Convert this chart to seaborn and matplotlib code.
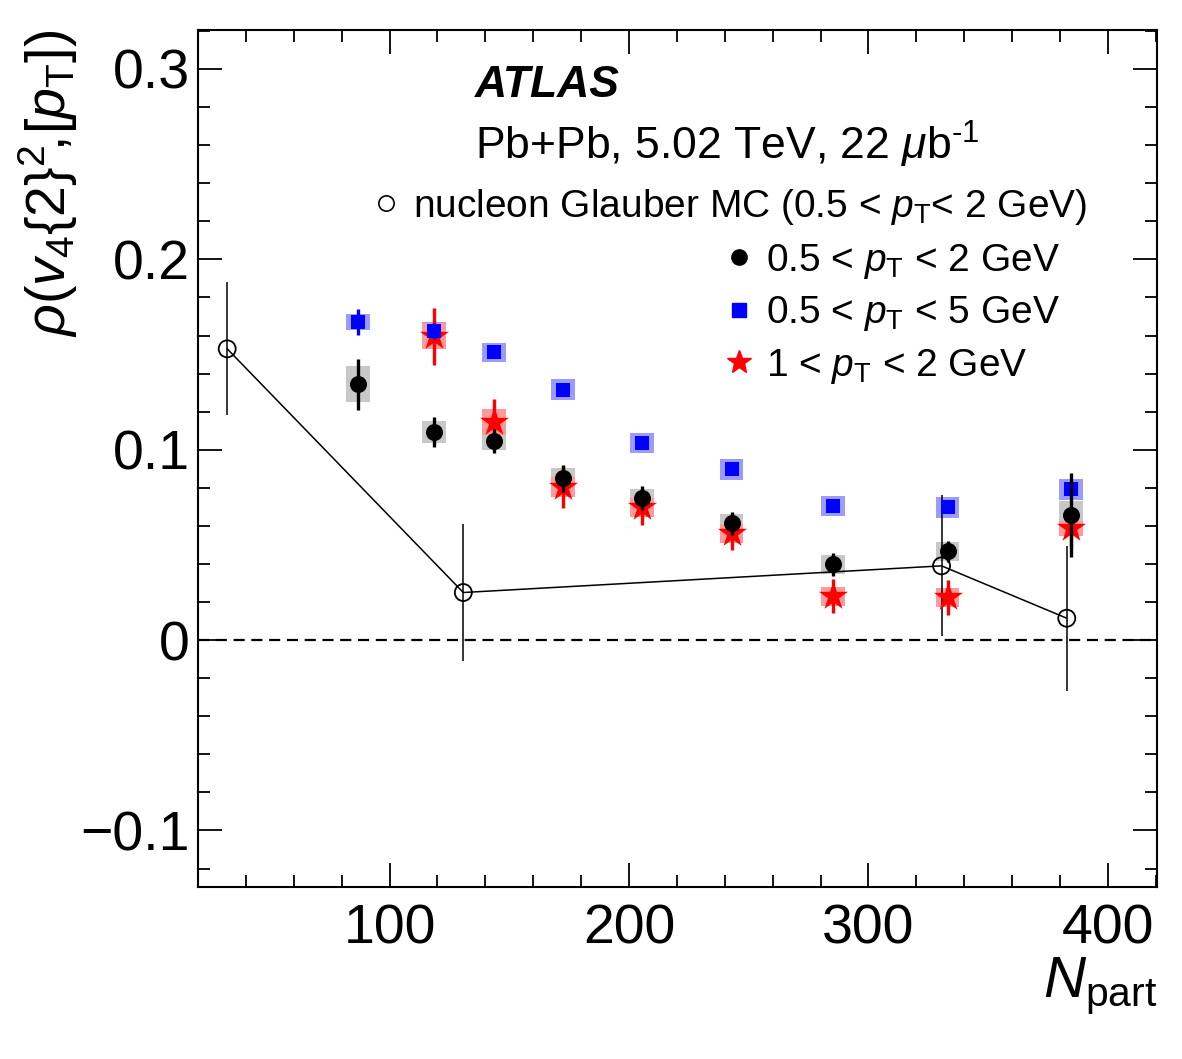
import numpy as np
import matplotlib
matplotlib.use("Agg")
import matplotlib.pyplot as plt
from matplotlib.lines import Line2D
from matplotlib.ticker import MultipleLocator, FuncFormatter
import seaborn as sns

# data
npart = [86.9, 118.7, 143.8, 172.6, 205.6, 242.8, 285.0, 333.0, 384.5]

black_y = [0.1344, 0.1094, 0.1046, 0.0850, 0.0745, 0.0614, 0.0399, 0.0467, 0.0656]
black_stat = [0.0133, 0.0080, 0.0065, 0.0070, 0.0063, 0.0060, 0.0060, 0.0055, 0.0220]
black_sys = [0.0094, 0.0056, 0.0050, 0.0055, 0.0050, 0.0050, 0.0050, 0.0050, 0.0075]

blue_y = [0.1670, 0.1624, 0.1513, 0.1316, 0.1036, 0.0898, 0.0705, 0.0698, 0.0793]
blue_stat = [0.0068, 0.0040, 0.0030, 0.0030, 0.0030, 0.0030, 0.0030, 0.0030, 0.0040]
blue_sys = [0.0042, 0.0048, 0.0050, 0.0054, 0.0052, 0.0055, 0.0052, 0.0055, 0.0055]

red_x = [118.7, 143.8, 172.6, 205.6, 242.8, 285.0, 333.0, 384.5]
red_y = [0.1597, 0.1146, 0.0803, 0.0698, 0.0562, 0.0231, 0.0226, 0.0588]
red_stat = [0.0150, 0.0120, 0.0110, 0.0095, 0.0090, 0.0090, 0.0092, 0.0100]
red_sys = [0.0070, 0.0066, 0.0053, 0.0050, 0.0050, 0.0050, 0.0050, 0.0040]

glauber_x = [32.2, 130.8, 330.5, 382.8]
glauber_y = [0.153, 0.025, 0.039, 0.0115]
glauber_err = [0.035, 0.036, 0.037, 0.038]

labels = ["0.5 < $p_{\\rm T}$ < 2 GeV", "0.5 < $p_{\\rm T}$ < 5 GeV", "1 < $p_{\\rm T}$ < 2 GeV"]
glauber_label = "nucleon Glauber MC (0.5 < $p_{\\rm T}$< 2 GeV)"

sns.set_theme(style="ticks")
plt.rcParams['font.family'] = ['Liberation Sans', 'DejaVu Sans']
plt.rcParams['mathtext.fontset'] = 'custom'
plt.rcParams['mathtext.rm'] = 'Liberation Sans'
plt.rcParams['mathtext.it'] = 'Liberation Sans:italic'
plt.rcParams['mathtext.bf'] = 'Liberation Sans:bold'
for k in ['text.color', 'axes.labelcolor', 'xtick.color', 'ytick.color', 'axes.edgecolor']:
    plt.rcParams[k] = 'black'

fig = plt.figure(figsize=(11.82, 10.59), dpi=100)
ax = fig.add_axes([0.1675, 0.1624, 0.8114, 0.8093])

boxw = 10
# systematic boxes
ax.bar(npart, 2 * np.array(black_sys), bottom=np.array(black_y) - np.array(black_sys),
       width=boxw, color='#c8c8c8', linewidth=0, zorder=1)
ax.bar(npart, 2 * np.array(blue_sys), bottom=np.array(blue_y) - np.array(blue_sys),
       width=boxw, color='#9a9aff', linewidth=0, zorder=1)
ax.bar(red_x, 2 * np.array(red_sys), bottom=np.array(red_y) - np.array(red_sys),
       width=boxw, color='#ff9a9a', linewidth=0, zorder=1)

ax.axhline(0, color='black', lw=1.6, ls=(0, (5, 3)), zorder=2)

# glauber
sns.lineplot(x=glauber_x, y=glauber_y, ax=ax, color='black', lw=1.1, sort=False, zorder=3)
ax.errorbar(glauber_x, glauber_y, yerr=glauber_err, fmt='none', ecolor='black',
            elinewidth=1.1, capsize=0, zorder=3)
sns.scatterplot(x=glauber_x, y=glauber_y, ax=ax, marker='o', s=150, facecolor='none',
                edgecolor='black', linewidth=1.3, zorder=4)

# data
ax.errorbar(red_x, red_y, yerr=red_stat, fmt='none', ecolor='red', elinewidth=2.4,
            capsize=0, zorder=5)
sns.scatterplot(x=red_x, y=red_y, ax=ax, marker='*', s=480, color='red', linewidth=0, zorder=5)
ax.errorbar(npart, blue_y, yerr=blue_stat, fmt='none', ecolor='blue', elinewidth=2.4,
            capsize=0, zorder=6)
sns.scatterplot(x=npart, y=blue_y, ax=ax, marker='s', s=110, color='blue', linewidth=0, zorder=6)
ax.errorbar(npart, black_y, yerr=black_stat, fmt='none', ecolor='black', elinewidth=2.4,
            capsize=0, zorder=7)
sns.scatterplot(x=npart, y=black_y, ax=ax, marker='o', s=150, color='black', linewidth=0, zorder=7)

ax.set_xlim(20, 420.5)
ax.set_ylim(-0.1297, 0.3205)

ax.xaxis.set_major_locator(MultipleLocator(100))
ax.xaxis.set_minor_locator(MultipleLocator(20))
ax.yaxis.set_major_locator(MultipleLocator(0.1))
ax.yaxis.set_minor_locator(MultipleLocator(0.02))
ax.yaxis.set_major_formatter(FuncFormatter(lambda v, p: '0' if abs(v) < 1e-9 else ('%.1f' % v).replace('-', '\u2212')))
ax.tick_params(which='both', direction='in', top=True, right=True, width=1.3, labelsize=40)
ax.tick_params(which='major', length=17)
ax.tick_params(which='minor', length=8.5)
ax.tick_params(axis='x', which='major', pad=12)
ax.tick_params(axis='y', which='major', pad=6)
for s in ax.spines.values():
    s.set_linewidth(1.5)

ax.set_xlabel("$N_{\\rm part}$", fontsize=42, loc='right', labelpad=0)
ax.set_ylabel("$\\rho(v_4\\{2\\}^2\\!,\\![p_{\\rm T}])$", fontsize=40, loc='top', labelpad=0)

ax.text(0.289, 0.935, "ATLAS", transform=ax.transAxes, fontsize=32, fontweight='bold',
        fontstyle='italic', va='center', ha='left')
ax.text(0.289, 0.866, "Pb+Pb, 5.02 TeV, 22 $\\mu$b$^{\\text{-1}}$", transform=ax.transAxes,
        fontsize=32, va='center', ha='left')

h_gl = [Line2D([], [], marker='o', ls='none', mfc='none', mec='black', ms=11, mew=1.2)]
leg1 = ax.legend(h_gl, [glauber_label], loc='upper left', bbox_to_anchor=(0.18, 0.817),
                 frameon=False, fontsize=28, handlelength=0.8, handletextpad=0.3,
                 borderpad=0, borderaxespad=0)
ax.add_artist(leg1)
h_data = [Line2D([], [], marker='o', ls='none', color='black', ms=11),
          Line2D([], [], marker='s', ls='none', color='blue', ms=10),
          Line2D([], [], marker='*', ls='none', color='red', ms=18)]
ax.legend(h_data, labels, loc='upper left', bbox_to_anchor=(0.548, 0.753), frameon=False,
          fontsize=28, handlelength=0.8, handletextpad=0.3, borderpad=0, borderaxespad=0,
          labelspacing=0.35)

fig.savefig("out.png", dpi=100)
